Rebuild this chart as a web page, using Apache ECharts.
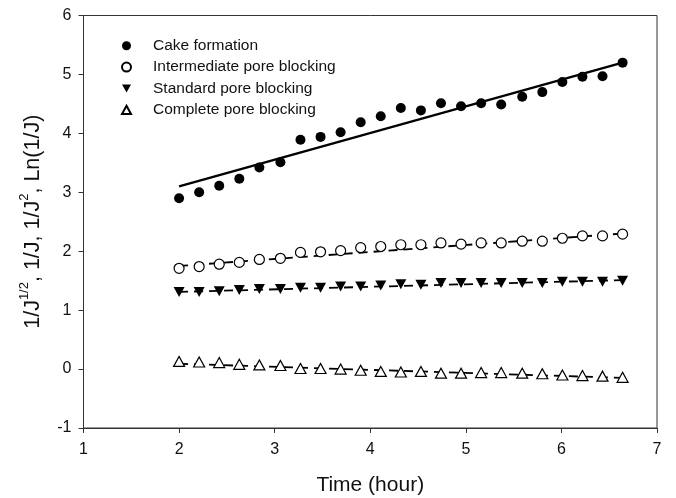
<!DOCTYPE html>
<html><head><meta charset="utf-8">
<script src="https://cdn.jsdelivr.net/npm/echarts@6/dist/echarts.min.js"></script>
<style>html,body{margin:0;padding:0;background:#fff}#c{width:676px;height:498px}</style>
</head><body><div id="c"></div>
<script>
const timeH = [2.00,2.21,2.42,2.63,2.84,3.06,3.27,3.48,3.69,3.90,4.11,4.32,4.53,4.74,4.95,5.16,5.37,5.59,5.80,6.01,6.22,6.43,6.64];
const cake = [2.90,3.00,3.11,3.23,3.42,3.51,3.89,3.94,4.02,4.19,4.29,4.43,4.39,4.51,4.46,4.51,4.49,4.62,4.70,4.87,4.96,4.97,5.20];
const intermediate = [1.71,1.74,1.78,1.81,1.86,1.88,1.98,1.99,2.01,2.06,2.08,2.11,2.11,2.14,2.12,2.14,2.14,2.17,2.17,2.22,2.26,2.26,2.29];
const standard = [1.31,1.31,1.32,1.34,1.36,1.36,1.38,1.38,1.40,1.40,1.42,1.44,1.43,1.46,1.46,1.46,1.46,1.46,1.46,1.48,1.48,1.48,1.50];
const complete = [0.13,0.12,0.11,0.08,0.07,0.06,0.01,0.01,0.00,-0.02,-0.04,-0.05,-0.04,-0.07,-0.07,-0.06,-0.06,-0.07,-0.08,-0.10,-0.11,-0.12,-0.14];
const fitX = [2.0, 6.64];
const fitCake = [3.10, 5.20];
const fitIntermediate = [1.75, 2.30];
const fitStandard = [1.31, 1.51];
const fitComplete = [0.09, -0.15];
const names = ['Cake formation','Intermediate pore blocking','Standard pore blocking','Complete pore blocking'];

const pts = arr => timeH.map((t,i)=>[t,arr[i]]);
const fit = arr => fitX.map((t,i)=>[t,arr[i]]);
const font = 'Liberation Sans, Arial, sans-serif';
const downTri = 'path://M0,0L10,0L5,9Z';
const upTri = 'path://M5,0L10,9L0,9Z';

const chart = echarts.init(document.getElementById('c'));
chart.setOption({
  animation:false,
  backgroundColor:'#fff',
  grid:{left:83.5,right:19,top:15.5,bottom:70,containLabel:false,outerBoundsMode:'none',
    show:true,borderColor:'#333',borderWidth:1,backgroundColor:'transparent'},
  xAxis:{type:'value',min:1,max:7,interval:1,
    name:'Time (hour)',nameLocation:'middle',nameGap:47,
    nameTextStyle:{fontFamily:font,fontSize:21,color:'#111'},
    axisLine:{onZero:false,lineStyle:{color:'#333'}},
    axisTick:{inside:false,length:5,lineStyle:{color:'#333'}},
    axisLabel:{fontFamily:font,fontSize:16,color:'#111',margin:14},
    splitLine:{show:false}},
  yAxis:{type:'value',min:-1,max:6,interval:1,
    name:'{n|1/J}{s|1/2}{n|, 1/J, 1/J}{s|2}{n|, Ln(1/J)}',
    nameLocation:'middle',nameGap:39,nameRotate:90,
    nameTextStyle:{fontFamily:font,fontSize:21.5,color:'#111',
      rich:{n:{fontFamily:font,fontSize:21.5,color:'#111',lineHeight:27,verticalAlign:'bottom'},
            s:{fontFamily:font,fontSize:13,color:'#111',lineHeight:27,verticalAlign:'top'}}},
    axisLine:{onZero:false,lineStyle:{color:'#333'}},
    axisTick:{inside:false,length:5,lineStyle:{color:'#333'}},
    axisLabel:{fontFamily:font,fontSize:16,color:'#111',margin:12},
    splitLine:{show:false}},
  legend:{orient:'vertical',left:116,top:32.7,itemWidth:9,itemHeight:9,itemGap:5.4,
    data:names,
    formatter:'{g|}{name}',
    textStyle:{fontFamily:font,fontSize:15.5,color:'#111',lineHeight:16,
      rich:{g:{width:17}}}},
  series:[
    {type:'line',data:fit(fitCake),symbol:'none',z:1,lineStyle:{color:'#000',width:2.2},silent:true},
    {type:'line',data:fit(fitIntermediate),symbol:'none',z:1,lineStyle:{color:'#000',width:1.8,type:[9,6]},silent:true},
    {type:'line',data:fit(fitStandard),symbol:'none',z:1,lineStyle:{color:'#000',width:1.8,type:[9,6]},silent:true},
    {type:'line',data:fit(fitComplete),symbol:'none',z:1,lineStyle:{color:'#000',width:1.8,type:[9,6]},silent:true},
    {name:names[0],type:'scatter',data:pts(cake),symbol:'circle',symbolSize:10,z:3,itemStyle:{color:'#000',opacity:1}},
    {name:names[1],type:'scatter',data:pts(intermediate),symbol:'circle',symbolSize:10,z:3,itemStyle:{color:'#fff',borderColor:'#000',borderWidth:1.2,opacity:1}},
    {name:names[2],type:'scatter',data:pts(standard),symbol:downTri,symbolSize:[11,10],z:3,itemStyle:{color:'#000',opacity:1}},
    {name:names[3],type:'scatter',data:pts(complete),symbol:upTri,symbolSize:[11,10],z:3,itemStyle:{color:'#fff',borderColor:'#000',borderWidth:1.2,opacity:1}}
  ]
});
</script></body></html>
